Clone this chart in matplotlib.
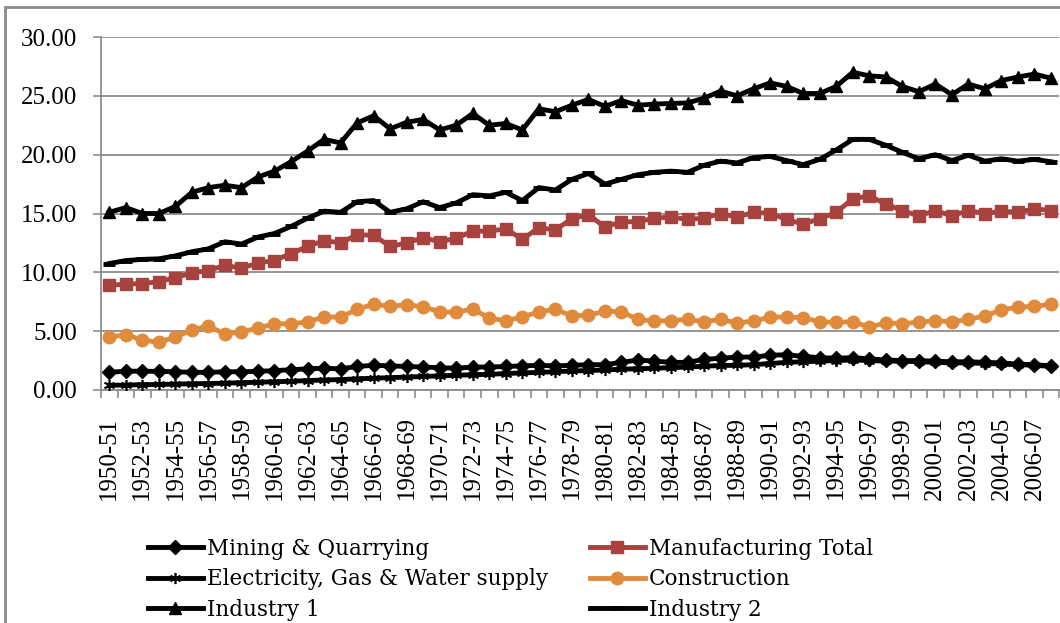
import matplotlib
matplotlib.use('Agg')
import matplotlib.pyplot as plt
import numpy as np
from matplotlib.patches import Rectangle

plt.rcParams['font.family'] = ['Liberation Serif', 'DejaVu Serif']

years = ['%d-%02d' % (y, (y + 1) % 100) for y in range(1950, 2008)]

mining = [1.50, 1.60, 1.60, 1.58, 1.55, 1.50, 1.50, 1.55, 1.55, 1.58,
          1.65, 1.72, 1.80, 1.85, 1.80, 2.00, 2.10, 2.05, 2.00, 1.95,
          1.90, 1.85, 1.95, 1.95, 2.00, 2.05, 2.10, 2.05, 2.10, 2.15,
          2.15, 2.35, 2.55, 2.45, 2.35, 2.35, 2.60, 2.70, 2.80, 2.80,
          2.95, 3.00, 2.85, 2.75, 2.70, 2.75, 2.65, 2.55, 2.50, 2.50,
          2.45, 2.40, 2.40, 2.35, 2.30, 2.20, 2.15, 2.05]
manufacturing = [8.90, 9.00, 9.05, 9.20, 9.55, 9.95, 10.15, 10.60, 10.35, 10.80,
                 11.00, 11.60, 12.20, 12.70, 12.50, 13.20, 13.15, 12.20, 12.50, 12.95,
                 12.60, 12.90, 13.50, 13.50, 13.70, 12.80, 13.80, 13.60, 14.55, 14.90,
                 13.85, 14.30, 14.30, 14.60, 14.70, 14.50, 14.60, 15.00, 14.70, 15.10,
                 15.00, 14.50, 14.10, 14.55, 15.10, 16.25, 16.50, 15.80, 15.25, 14.80,
                 15.25, 14.80, 15.25, 15.00, 15.20, 15.10, 15.40, 15.25]
electricity = [0.40, 0.42, 0.45, 0.47, 0.50, 0.53, 0.55, 0.58, 0.62, 0.66,
               0.70, 0.74, 0.80, 0.85, 0.88, 0.95, 1.00, 1.05, 1.10, 1.15,
               1.20, 1.25, 1.30, 1.33, 1.40, 1.45, 1.50, 1.55, 1.62, 1.65,
               1.70, 1.77, 1.80, 1.85, 1.90, 1.95, 2.02, 2.08, 2.10, 2.15,
               2.25, 2.35, 2.40, 2.45, 2.50, 2.55, 2.50, 2.45, 2.45, 2.40,
               2.35, 2.30, 2.30, 2.25, 2.20, 2.15, 2.10, 2.00]
construction = [4.50, 4.70, 4.25, 4.05, 4.50, 5.10, 5.45, 4.75, 4.95, 5.25,
                5.65, 5.60, 5.80, 6.20, 6.20, 6.85, 7.30, 7.10, 7.25, 7.07,
                6.65, 6.60, 6.90, 6.10, 5.90, 6.20, 6.65, 6.85, 6.30, 6.35,
                6.70, 6.65, 6.00, 5.85, 5.90, 6.00, 5.80, 6.00, 5.70, 5.85,
                6.20, 6.20, 6.15, 5.80, 5.75, 5.80, 5.35, 5.70, 5.65, 5.75,
                5.90, 5.80, 6.00, 6.30, 6.80, 7.05, 7.10, 7.30]
industry1 = [15.10, 15.50, 15.00, 15.00, 15.60, 16.80, 17.20, 17.40, 17.20, 18.10,
             18.60, 19.40, 20.30, 21.30, 21.00, 22.70, 23.30, 22.20, 22.75, 23.00,
             22.10, 22.50, 23.50, 22.50, 22.65, 22.10, 23.90, 23.65, 24.20, 24.70,
             24.10, 24.60, 24.20, 24.30, 24.35, 24.40, 24.80, 25.40, 25.00, 25.60,
             26.10, 25.80, 25.20, 25.20, 25.80, 27.00, 26.70, 26.60, 25.80, 25.35,
             26.00, 25.10, 26.00, 25.60, 26.30, 26.60, 26.85, 26.50]
industry2 = [10.75, 11.00, 11.10, 11.15, 11.40, 11.75, 12.00, 12.60, 12.40, 13.00,
             13.30, 13.90, 14.60, 15.20, 15.10, 16.00, 16.10, 15.10, 15.40, 16.00,
             15.50, 15.90, 16.60, 16.50, 16.80, 16.10, 17.20, 17.00, 17.90, 18.40,
             17.50, 17.90, 18.30, 18.50, 18.60, 18.50, 19.10, 19.45, 19.30, 19.75,
             19.85, 19.50, 19.15, 19.60, 20.40, 21.30, 21.30, 20.80, 20.20, 19.65,
             20.00, 19.50, 19.95, 19.45, 19.65, 19.45, 19.60, 19.40]

red = '#A8423F'
orange = '#E08A3C'
grid_c = '#8c8c8c'

fig = plt.figure(figsize=(10.6, 6.23), dpi=100)
ax = fig.add_axes([0.0953, 0.374, 0.904, 0.5666])
x = np.arange(len(years))

lw = 3.5
h_min = ax.plot(x, mining, color='black', lw=lw, marker='D', ms=7, label='Mining & Quarrying', zorder=3)
h_ele = ax.plot(x, electricity, color='black', lw=lw, marker=(6, 2, 0), ms=8, mew=1.2,
                label='Electricity, Gas & Water supply', zorder=3)
h_in1 = ax.plot(x, industry1, color='black', lw=lw, marker='^', ms=9, label='Industry 1', zorder=3)
h_man = ax.plot(x, manufacturing, color=red, lw=lw, marker='s', ms=9, label='Manufacturing Total', zorder=3)
h_con = ax.plot(x, construction, color=orange, lw=lw, marker='o', ms=9, label='Construction', zorder=3)
h_in2 = ax.plot(x, industry2, color='black', lw=lw, marker='_', ms=9, mew=3.5, label='Industry 2', zorder=3)

ax.set_xlim(-0.5, len(years) - 0.5)
ax.set_ylim(0, 30)
ax.set_yticks(np.arange(0, 31, 5))
ax.set_yticklabels(['%.2f' % v for v in np.arange(0, 31, 5)], fontsize=18)
ax.yaxis.grid(True, color=grid_c, lw=1.3)
ax.set_axisbelow(True)

ax.set_xticks(x[::2])
ax.set_xticklabels(years[::2], rotation=90, fontsize=18)
ax.set_xticks(np.arange(-0.5, len(years), 1), minor=True)
ax.tick_params(axis='x', which='major', length=0, pad=19)
ax.tick_params(axis='x', which='minor', length=5.8, color=grid_c, width=1.2)
ax.tick_params(axis='y', length=5.8, color=grid_c, width=1.2, pad=11.5)

for s in ['top', 'right']:
    ax.spines[s].set_visible(False)
for s in ['left', 'bottom']:
    ax.spines[s].set_color(grid_c)
    ax.spines[s].set_linewidth(1.3)

leg_kw = dict(loc='upper left', bbox_transform=fig.transFigure, frameon=False,
              prop={'family': ['DejaVu Serif'], 'size': 15.5}, handlelength=2.55,
              handletextpad=0.2, labelspacing=0.4, borderaxespad=0, borderpad=0)
fig.legend(handles=h_min + h_ele + h_in1, bbox_to_anchor=(148 / 1060, 0.137), **leg_kw)
fig.legend(handles=h_man + h_con + h_in2, bbox_to_anchor=(590 / 1060, 0.137), **leg_kw)

fig.patches.append(Rectangle((5 / 1060, -0.1), 1.2, 1 - 7 / 623 + 0.1,
                             transform=fig.transFigure, fill=False,
                             edgecolor='#8a8a8a', lw=2))

fig.savefig('out.png', dpi=100)
